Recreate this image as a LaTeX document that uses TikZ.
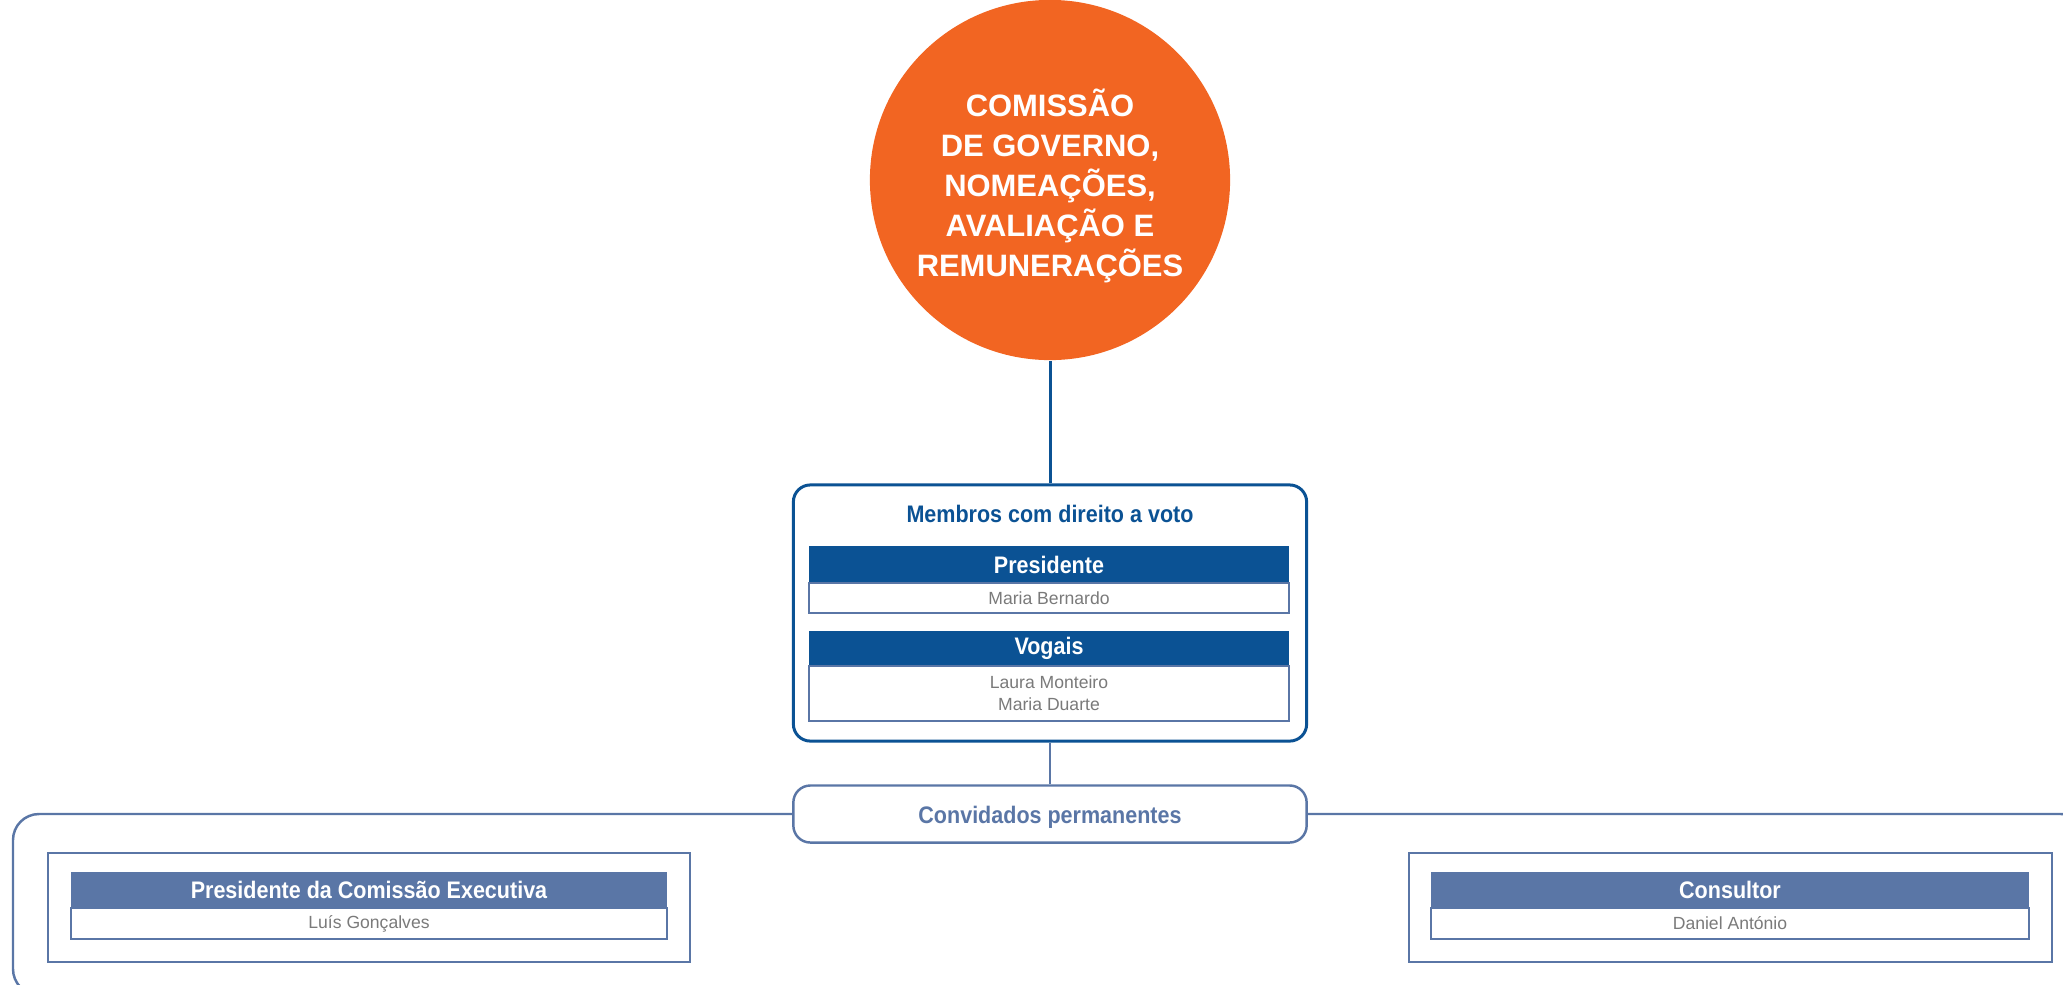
\documentclass[tikz,border=0pt]{standalone}
\usepackage{fontspec}
\usetikzlibrary{positioning}
\setmainfont{Liberation Sans}
\newfontfamily\narrowfont[FakeStretch=0.9]{Liberation Sans}
\definecolor{orangec}{HTML}{F26522}
\definecolor{darkblue}{HTML}{0B5294}
\definecolor{lightblue}{HTML}{5A76A6}
\definecolor{namegray}{HTML}{7A7A7A}
\tikzset{
  darkline/.style={draw=darkblue, line width=0.85pt},
  lightline/.style={draw=lightblue, line width=0.7pt},
  headbar/.style={rectangle, inner sep=0pt, outer sep=0pt, text=white,
    font=\narrowfont\bfseries\fontsize{6.8}{8}\selectfont},
  namerow/.style={rectangle, draw=lightblue, line width=0.4pt, fill=white,
    inner sep=0pt, outer sep=0pt, text=namegray, align=center,
    font=\fontsize{5}{6.3}\selectfont},
  titletext/.style={font=\narrowfont\bfseries\fontsize{6.8}{8}\selectfont}
}
\begin{document}
\begin{tikzpicture}[x=0.01cm,y=-0.01cm]
  \def\cx{1050};
  \clip (0,0) rectangle (2063,984);
  % comissao
  \node[circle, fill=orangec, minimum size=3.6cm, inner sep=0pt] (comissao) at (\cx,180) {};
  \node[text=white, align=center, font=\bfseries\fontsize{8.8}{11.4}\selectfont] (tcom) at (\cx,186)
    {COMISSÃO\\DE GOVERNO,\\NOMEAÇÕES,\\AVALIAÇÃO E\\REMUNERAÇÕES};
  % membros com direito a voto
  \node[darkline, rounded corners=0.17cm, minimum width=5.13cm, minimum height=2.56cm] (membros) at (\cx,613) {};
  \node[titletext, text=darkblue] (tmembros) at (\cx,514) {Membros com direito a voto};
  \node[headbar, fill=darkblue, minimum width=4.8cm, minimum height=0.37cm] (hpres) at (\cx-1,564.5) {Presidente};
  \node[namerow, minimum width=4.8cm, minimum height=0.30cm, below=0pt of hpres] (npres) {Maria Bernardo};
  \node[headbar, fill=darkblue, minimum width=4.8cm, minimum height=0.35cm] (hvog) at (\cx-1,648.5) {Vogais};
  \node[namerow, minimum width=4.8cm, minimum height=0.55cm, below=0pt of hvog] (nvog) {Laura Monteiro\\Maria Duarte};
  \draw[darkline] (comissao) -- (membros);
  % convidados permanentes
  \node[lightline, rounded corners=0.17cm, minimum width=5.13cm, minimum height=0.57cm] (conv) at (\cx,814) {};
  \node[titletext, text=lightblue] (tconv) at (\cx,817) {Convidados permanentes};
  \draw[lightline] (membros) -- (conv);
  \draw[lightline, rounded corners=0.26cm] (conv.west) -- (13,814) -- (13,995)
    -- (2087,995) -- (2087,814) -- (conv.east);
  % presidente da comissao executiva
  \node[lightline, minimum width=6.42cm, minimum height=1.09cm] (bpce) at (369,907.5) {};
  \node[headbar, fill=lightblue, minimum width=5.96cm, minimum height=0.36cm] (hpce) at (369,890) {Presidente da Comissão Executiva};
  \node[namerow, minimum width=5.96cm, minimum height=0.31cm, below=0pt of hpce] (npce) {Luís Gonçalves};
  % consultor
  \node[lightline, minimum width=6.43cm, minimum height=1.09cm] (bcons) at (1730.5,907.5) {};
  \node[headbar, fill=lightblue, minimum width=5.98cm, minimum height=0.36cm] (hcons) at (1730,890) {Consultor};
  \node[namerow, minimum width=5.98cm, minimum height=0.31cm, below=0pt of hcons] (ncons) {Daniel António};
\end{tikzpicture}
\end{document}
